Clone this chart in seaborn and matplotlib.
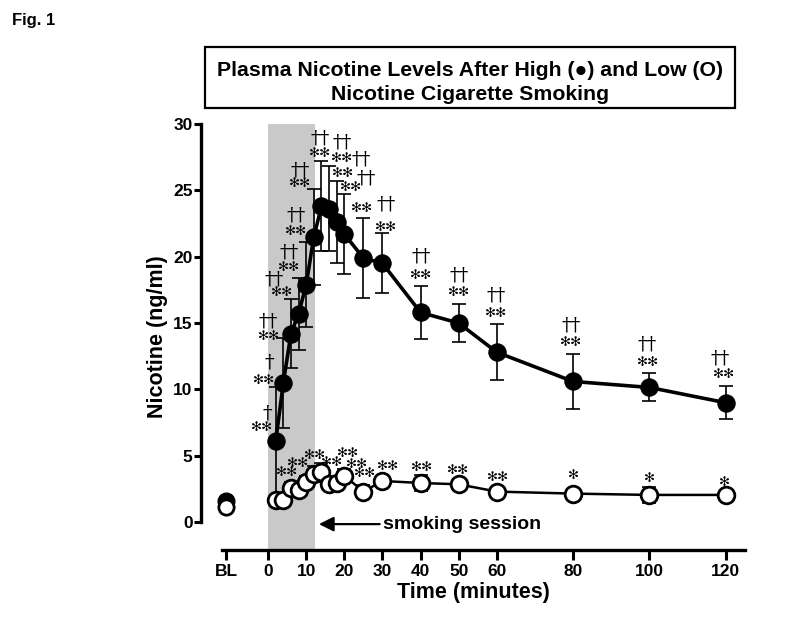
import pandas as pd
import matplotlib
matplotlib.use("Agg")
import matplotlib.pyplot as plt
from matplotlib.patches import Rectangle
import seaborn as sns

# Plasma nicotine (ng/ml), mean and error
time_min = [2, 4, 6, 8, 10, 12, 14, 16, 18, 20, 25, 30, 40, 50, 60, 80, 100, 120]
high_mean = [6.1, 10.5, 14.2, 15.7, 17.9, 21.5, 23.8, 23.6, 22.6, 21.7, 19.9, 19.5,
             15.8, 15.0, 12.8, 10.6, 10.15, 9.0]
high_err = [4.1, 3.4, 2.6, 2.7, 3.2, 3.6, 3.4, 3.2, 3.1, 3.0, 3.0, 2.25,
            2.0, 1.45, 2.1, 2.05, 1.05, 1.25]
low_mean = [1.7, 1.7, 2.6, 2.45, 3.05, 3.65, 3.75, 2.9, 2.95, 3.5, 2.3, 3.1,
            2.95, 2.85, 2.3, 2.15, 2.05, 2.05]
low_err = [0.3, 0.3, 0.4, 0.5, 0.4, 0.6, 0.7, 0.4, 0.4, 0.5, 0.5, 0.4,
           0.6, 0.4, 0.3, 0.3, 0.6, 0.3]

# baseline
bl_pos = -11
bl_high = 1.6
bl_low = 1.15

x_ticks = [bl_pos, 0, 10, 20, 30, 40, 50, 60, 80, 100, 120]
x_labels = ["BL", "0", "10", "20", "30", "40", "50", "60", "80", "100", "120"]
y_ticks = [0, 5, 10, 15, 20, 25, 30]

session_end = 12.3

# significance marks (x, y, text)
high_stars = [(-1.6, 7.1), (-1.1, 10.7), (0.2, 14.0), (3.6, 17.3), (5.5, 19.2),
              (7.3, 21.9), (8.3, 25.5), (13.6, 27.8), (19.4, 27.4), (19.6, 26.3),
              (21.7, 25.2), (24.6, 23.6), (30.9, 22.2), (40.1, 18.6), (50.0, 17.3),
              (59.8, 15.75), (79.4, 13.5), (99.6, 12.05), (119.6, 11.1)]
high_daggers = [(-0.3, 8.2, "†"), (0.2, 12.05, "†"), (0.0, 15.1, "††"),
                (1.5, 18.3, "††"), (5.5, 20.3, "††"), (7.3, 23.1, "††"),
                (8.3, 26.5, "††"), (13.6, 28.9, "††"), (19.4, 28.6, "††"),
                (24.3, 27.3, "††"), (25.6, 25.9, "††"), (30.9, 23.9, "††"),
                (40.1, 20.0, "††"), (50.0, 18.6, "††"), (59.8, 17.1, "††"),
                (79.4, 14.8, "††"), (99.3, 13.4, "††"), (118.5, 12.3, "††")]
low_stars = [(4.9, 3.77, "**"), (7.8, 4.45, "**"), (12.3, 5.05, "**"),
             (16.7, 4.5, "**"), (20.9, 5.2, "**"), (23.3, 4.37, "**"),
             (25.4, 3.7, "**"), (31.4, 4.2, "**"), (40.3, 4.14, "**"),
             (49.8, 3.9, "**"), (60.3, 3.4, "**"), (80.0, 3.5, "*"),
             (100.1, 3.3, "*"), (119.8, 3.0, "*")]

df = pd.DataFrame({"time": time_min, "high": high_mean, "low": low_mean})

sns.set_style("ticks")
plt.rcParams["font.family"] = ["Liberation Sans", "DejaVu Sans"]
plt.rcParams["font.weight"] = "bold"
for key in ["text.color", "axes.labelcolor", "xtick.color", "ytick.color",
            "axes.edgecolor"]:
    plt.rcParams[key] = "black"

fig = plt.figure(figsize=(7.96, 6.19), dpi=100)
ax = fig.add_axes([201 / 796, 69 / 619, 544 / 796, 426 / 619])

# smoking session shading
ax.axvspan(0, session_end, color="#c9c9c9", zorder=0, lw=0)

# error bars
ax.errorbar(time_min, high_mean, yerr=high_err, fmt="none", ecolor="black",
            elinewidth=1.2, capsize=5, capthick=1.2, zorder=3)
ax.errorbar(time_min, low_mean, yerr=low_err, fmt="none", ecolor="black",
            elinewidth=1.2, capsize=5, capthick=1.2, zorder=5)

sns.lineplot(data=df, x="time", y="high", ax=ax, color="black", linewidth=2.6,
             marker="o", markersize=12.5, markerfacecolor="black",
             markeredgecolor="black", zorder=4)
sns.lineplot(data=df, x="time", y="low", ax=ax, color="black", linewidth=1.8,
             marker="o", markersize=12, markerfacecolor="white",
             markeredgecolor="black", markeredgewidth=2, zorder=6)

# baseline points
ax.plot([bl_pos], [bl_high], "o", color="black", markersize=12, zorder=6)
ax.plot([bl_pos], [bl_low], "o", markerfacecolor="white", markeredgecolor="black",
        markeredgewidth=2, markersize=11, zorder=7)

for x, y in high_stars:
    ax.text(x, y, "✻✻", ha="center", va="center", fontsize=9.5,
            family="DejaVu Sans", fontweight="normal", clip_on=False, zorder=8)
for x, y, t in high_daggers:
    ax.text(x, y, t, ha="center", va="center", fontsize=14,
            family="DejaVu Serif", fontweight="normal", clip_on=False, zorder=8)
for x, y, t in low_stars:
    ax.text(x, y, t.replace("*", "✻"), ha="center", va="center", fontsize=9.5,
            family="DejaVu Sans", fontweight="normal", clip_on=False, zorder=8)

# smoking session arrow
ax.annotate("", xy=(session_end + 0.3, -0.15), xytext=(30, -0.15),
            arrowprops=dict(arrowstyle="-|>", color="black", lw=1.6,
                            mutation_scale=22))
ax.text(30.2, -0.15, "smoking session", ha="left", va="center", fontsize=14,
        fontweight="bold")

ax.set_xlim(-17.6, 125.1)
ax.set_ylim(-2.1, 30)
ax.set_xticks(x_ticks)
ax.set_xticklabels(x_labels)
ax.set_yticks(y_ticks)
ax.tick_params(axis="x", direction="out", length=7, width=2.2,
               labelsize=12.5, pad=3)
ax.tick_params(axis="y", direction="out", length=5, width=2.2,
               labelsize=12.5, pad=1)
for lab in ax.get_xticklabels() + ax.get_yticklabels():
    lab.set_fontweight("bold")

ax.spines["top"].set_visible(False)
ax.spines["right"].set_visible(False)
ax.spines["left"].set_linewidth(2.4)
ax.spines["bottom"].set_linewidth(2.4)
ax.spines["left"].set_bounds(0, 30)
ax.spines["bottom"].set_bounds(-12.1, 125.1)

ax.set_xlabel("Time (minutes)", fontsize=15.5, fontweight="bold", labelpad=2)
ax.set_ylabel("Nicotine (ng/ml)", fontsize=15.5, fontweight="bold", labelpad=4)

# title box
fig.patches.append(Rectangle((205 / 796, 1 - 108 / 619), 530 / 796, 61 / 619,
                             transform=fig.transFigure, fill=False,
                             edgecolor="black", lw=1.6))
fig.text(470 / 796, 1 - 71 / 619, "Plasma Nicotine Levels After High (●) and Low (O)",
         ha="center", va="center", fontsize=15.3, fontweight="bold",
         family=["Liberation Sans", "DejaVu Sans"])
fig.text(470 / 796, 1 - 94 / 619, "Nicotine Cigarette Smoking",
         ha="center", va="center", fontsize=15.3, fontweight="bold",
         family=["Liberation Sans", "DejaVu Sans"])
fig.text(12 / 796, 1 - 20 / 619, "Fig. 1", ha="left", va="center",
         fontsize=12, fontweight="bold")

fig.savefig("out.png", dpi=100)
